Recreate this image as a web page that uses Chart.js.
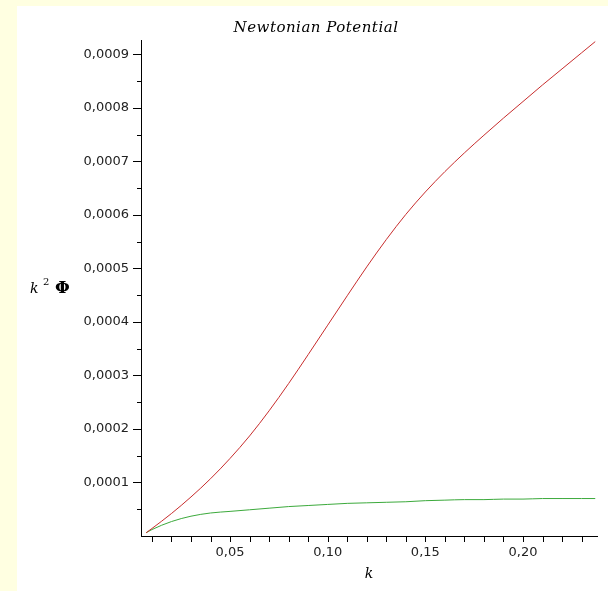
<!DOCTYPE html>
<html>
<head>
<meta charset="utf-8">
<script src="https://cdn.jsdelivr.net/npm/chart.js@4"></script>
<style>
  body { margin: 0; background: #FFFFE1; }
  canvas { display: block; }
</style>
</head>
<body>
<canvas id="myChart" width="608" height="591"></canvas>
<script>
// Data
const kValues = [0.007, 0.01, 0.02, 0.03, 0.04, 0.05, 0.06, 0.07, 0.08, 0.09, 0.10, 0.11, 0.12,
                 0.13, 0.14, 0.15, 0.16, 0.17, 0.18, 0.19, 0.20, 0.21, 0.22, 0.23, 0.237];
const redValues = [0.000006, 0.000014, 0.000042, 0.000073, 0.000107, 0.000145, 0.000187, 0.000234,
                   0.000285, 0.000339, 0.000394, 0.000449, 0.000503, 0.000554, 0.000601, 0.000643,
                   0.000681, 0.000716, 0.000749, 0.000781, 0.000812, 0.000843, 0.000873, 0.000903, 0.000924];
const greenValues = [0.000006, 0.000012, 0.000027, 0.000037, 0.000043, 0.000046, 0.000049, 0.000052,
                     0.000055, 0.000057, 0.000059, 0.000061, 0.000062, 0.000063, 0.000064, 0.000066,
                     0.000067, 0.000068, 0.000068, 0.000069, 0.000069, 0.000070, 0.000070, 0.000070, 0.000070];

const xTickValues = [0.05, 0.10, 0.15, 0.20];
const xTickLabels = ['0,05', '0,10', '0,15', '0,20'];
const yTickValues = [0.0001, 0.0002, 0.0003, 0.0004, 0.0005, 0.0006, 0.0007, 0.0008, 0.0009];
const yTickLabels = ['0,0001', '0,0002', '0,0003', '0,0004', '0,0005', '0,0006', '0,0007', '0,0008', '0,0009'];

const titleText = 'Newtonian Potential';

// white panel, tick marks and texts
const decor = {
    id: 'decor',
    beforeDraw(chart) {
        const ctx = chart.ctx;
        ctx.save();
        ctx.fillStyle = '#FFFFFF';
        ctx.fillRect(17, 6, 591, 585);
        ctx.restore();
    },
    afterDraw(chart) {
        const ctx = chart.ctx;
        const x = chart.scales.x, y = chart.scales.y;
        const area = chart.chartArea;
        ctx.save();
        ctx.strokeStyle = '#000';
        ctx.lineWidth = 1;
        ctx.beginPath();
        // x ticks every 0.01
        for (let i = 1; i <= 23; i++) {
            const px = Math.round(x.getPixelForValue(i * 0.01)) + 0.5;
            ctx.moveTo(px, area.bottom);
            ctx.lineTo(px, area.bottom + 6);
        }
        // y ticks every 0.00005
        for (let i = 1; i <= 18; i++) {
            const py = Math.round(y.getPixelForValue(i * 0.00005)) + 0.5;
            const len = i % 2 === 0 ? 8 : 4;
            ctx.moveTo(area.left, py);
            ctx.lineTo(area.left - len, py);
        }
        ctx.stroke();

        ctx.fillStyle = '#000';
        ctx.textBaseline = 'middle';
        ctx.textAlign = 'center';
        ctx.font = 'italic 15px "DejaVu Serif"';
        ctx.letterSpacing = '0.5px';
        ctx.fillText(titleText, 316, 28);
        ctx.letterSpacing = '0px';

        ctx.font = 'italic 14px "DejaVu Serif"';
        ctx.fillText('k', (area.left + area.right) / 2, 574);

        // y axis title k^2 Phi
        ctx.textAlign = 'left';
        ctx.font = 'italic 14px "DejaVu Serif"';
        ctx.fillText('k', 30, 289);
        ctx.font = '10px "DejaVu Serif"';
        ctx.fillText('2', 43, 282);
        ctx.font = 'bold 17px "DejaVu Serif"';
        ctx.fillText('\u03A6', 55, 289);
        ctx.restore();
    }
};

const config = {
    type: 'line',
    data: {
        datasets: [{
            label: 'red',
            data: kValues.map((k, i) => ({ x: k, y: redValues[i] })),
            borderColor: 'rgb(200, 45, 45)',
            borderWidth: 1,
            pointRadius: 0,
            cubicInterpolationMode: 'monotone'
        }, {
            label: 'green',
            data: kValues.map((k, i) => ({ x: k, y: greenValues[i] })),
            borderColor: 'rgb(60, 170, 60)',
            borderWidth: 1,
            pointRadius: 0,
            cubicInterpolationMode: 'monotone'
        }]
    },
    options: {
        responsive: false,
        animation: false,
        devicePixelRatio: 1,
        layout: { padding: { top: 40, right: 11, left: 0, bottom: 0 } },
        plugins: {
            legend: { display: false },
            tooltip: { enabled: false }
        },
        scales: {
            x: {
                type: 'linear',
                min: 0.0044,
                max: 0.2379,
                afterFit: s => { s.height = 55; },
                afterBuildTicks: s => { s.ticks = xTickValues.map(v => ({ value: v })); },
                grid: { display: false, drawTicks: false },
                border: { display: true, color: '#000', width: 1 },
                ticks: {
                    autoSkip: false,
                    maxRotation: 0,
                    padding: 9,
                    color: '#222',
                    font: { family: 'DejaVu Sans', size: 13 },
                    callback: (v, i) => xTickLabels[i]
                }
            },
            y: {
                type: 'linear',
                min: 0,
                max: 0.000927,
                afterFit: s => { s.width = 141; },
                afterBuildTicks: s => { s.ticks = yTickValues.map(v => ({ value: v })); },
                grid: { display: false, drawTicks: false },
                border: { display: true, color: '#000', width: 1 },
                ticks: {
                    autoSkip: false,
                    padding: 12,
                    color: '#222',
                    font: { family: 'DejaVu Sans', size: 13 },
                    callback: (v, i) => yTickLabels[i]
                }
            }
        }
    },
    plugins: [decor]
};

new Chart(document.getElementById('myChart'), config);
</script>
</body>
</html>
